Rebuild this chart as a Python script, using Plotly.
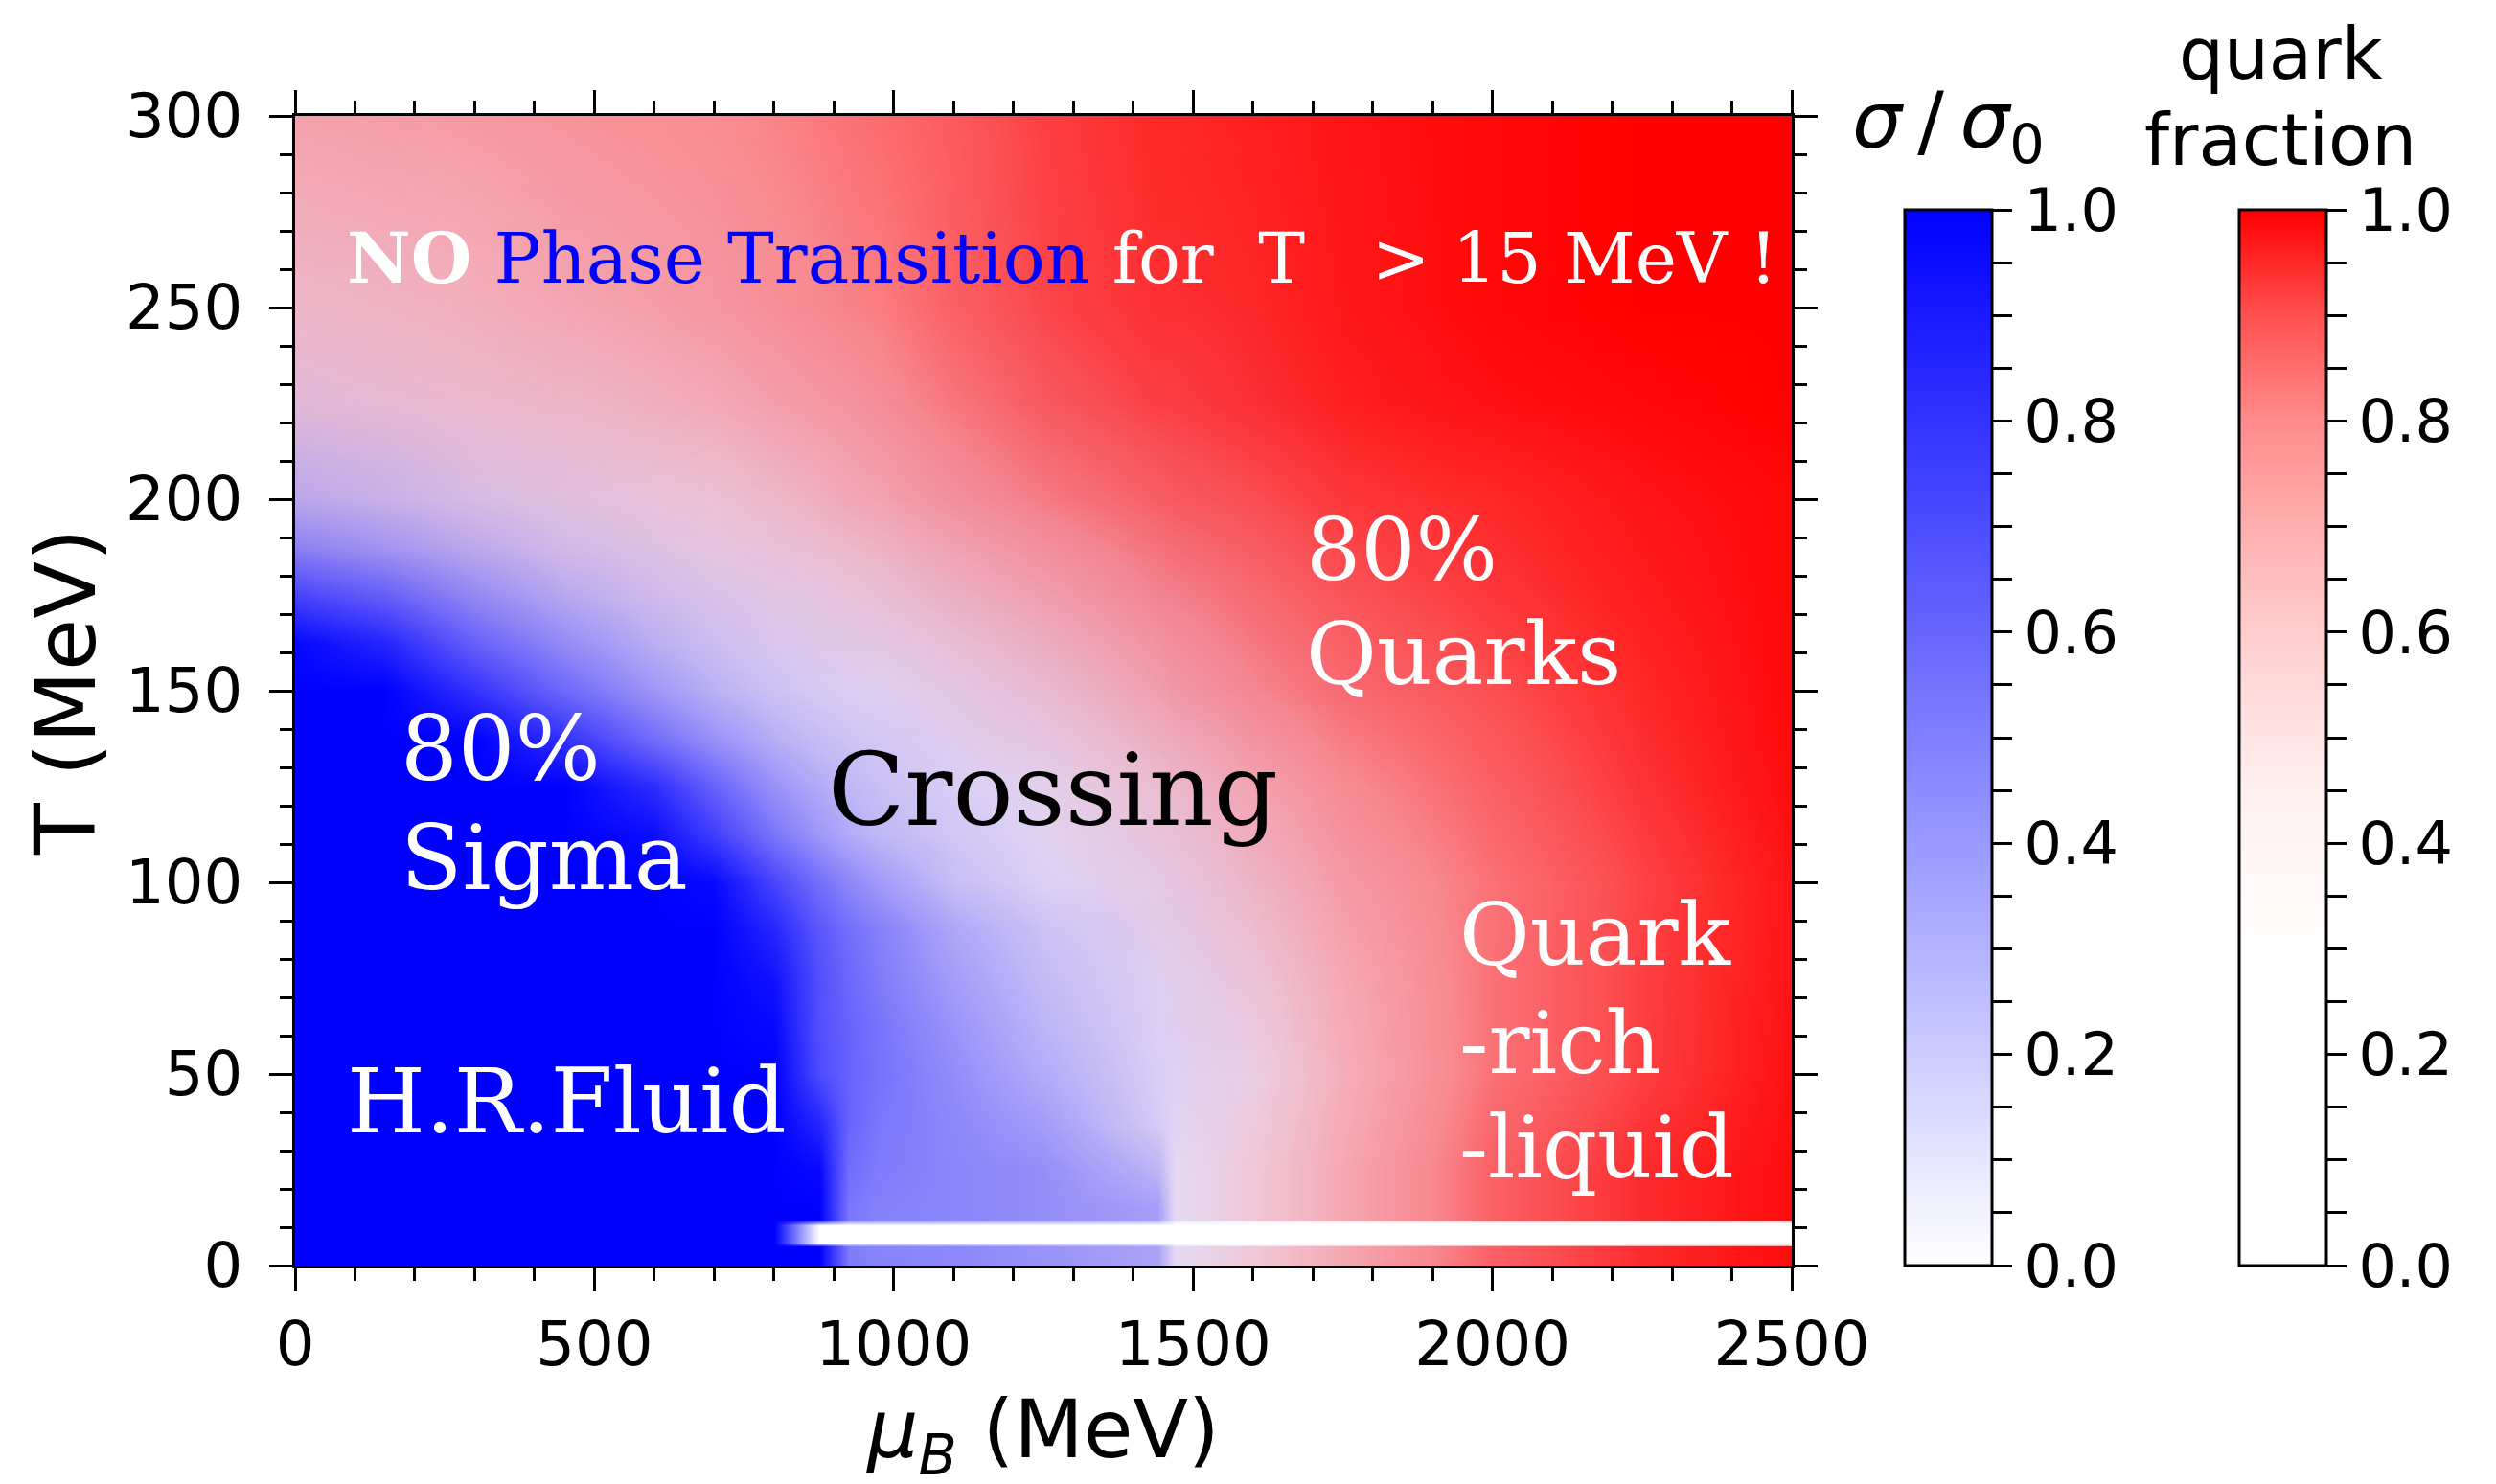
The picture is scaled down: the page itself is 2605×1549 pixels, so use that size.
import plotly.graph_objects as go

# ---------------- data ----------------
# sigma / sigma_0 field
mu_sigma = [0, 150, 300, 450, 600, 700, 800, 875, 925, 975, 1100, 1250, 1440, 1470, 1600, 1750, 2000, 2250, 2500]
T_sigma = [0, 5, 6, 10.5, 12, 15, 25, 37.5, 50, 62.5, 75, 87.5, 100, 112.5, 125, 137.5, 150,
           162.5, 175, 187.5, 200, 225, 250, 300]
sigma_ratio = [
    [1, 1, 1, 1, 1, 1, 1, 1, 0.50, 0.47, 0.45, 0.40, 0.33, 0.10, 0.06, 0.04, 0.02, 0.01, 0],
    [1, 1, 1, 1, 1, 1, 1, 1, 0.50, 0.47, 0.45, 0.40, 0.33, 0.10, 0.06, 0.04, 0.02, 0.01, 0],
    [1, 1, 1, 1, 1, 1, 1, 0, 0, 0, 0, 0, 0, 0, 0, 0, 0, 0, 0],
    [1, 1, 1, 1, 1, 1, 1, 0, 0, 0, 0, 0, 0, 0, 0, 0, 0, 0, 0],
    [1, 1, 1, 1, 1, 1, 1, 1, 0.52, 0.48, 0.46, 0.42, 0.35, 0.10, 0.06, 0.04, 0.02, 0.01, 0],
    [1, 1, 1, 1, 1, 1, 1, 1, 0.52, 0.48, 0.46, 0.42, 0.35, 0.10, 0.06, 0.04, 0.02, 0.01, 0],
    [1, 1, 1, 1, 1, 1, 1, 0.97, 0.56, 0.50, 0.46, 0.42, 0.26, 0.10, 0.06, 0.04, 0.02, 0.01, 0],
    [1, 1, 1, 1, 1, 1, 1, 0.85, 0.60, 0.52, 0.45, 0.36, 0.16, 0.12, 0.07, 0.04, 0.02, 0.01, 0],
    [1, 1, 1, 1, 1, 1, 1, 0.70, 0.60, 0.54, 0.43, 0.30, 0.15, 0.13, 0.08, 0.04, 0.02, 0.01, 0],
    [1, 1, 1, 1, 1, 1, 0.97, 0.68, 0.60, 0.53, 0.40, 0.26, 0.14, 0.13, 0.08, 0.04, 0.02, 0.01, 0],
    [1, 1, 1, 1, 1, 1, 0.93, 0.68, 0.58, 0.50, 0.36, 0.23, 0.13, 0.12, 0.08, 0.04, 0.02, 0.01, 0],
    [1, 1, 1, 1, 1, 1, 0.85, 0.65, 0.55, 0.48, 0.32, 0.20, 0.12, 0.11, 0.07, 0.04, 0.02, 0.01, 0],
    [1, 1, 1, 1, 1, 0.97, 0.72, 0.55, 0.45, 0.37, 0.22, 0.14, 0.10, 0.10, 0.07, 0.04, 0.02, 0.01, 0],
    [1, 1, 1, 1, 0.95, 0.75, 0.52, 0.38, 0.30, 0.25, 0.18, 0.12, 0.09, 0.09, 0.06, 0.04, 0.02, 0.01, 0],
    [1, 1, 1, 1, 0.82, 0.60, 0.40, 0.30, 0.25, 0.21, 0.15, 0.11, 0.08, 0.08, 0.05, 0.03, 0.02, 0.01, 0],
    [1, 1, 1, 0.80, 0.55, 0.40, 0.28, 0.22, 0.19, 0.17, 0.13, 0.10, 0.07, 0.07, 0.05, 0.03, 0.01, 0.01, 0],
    [1, 1, 0.80, 0.57, 0.38, 0.27, 0.20, 0.16, 0.14, 0.13, 0.11, 0.09, 0.06, 0.06, 0.04, 0.03, 0.01, 0, 0],
    [0.97, 0.85, 0.60, 0.42, 0.27, 0.20, 0.15, 0.13, 0.12, 0.11, 0.09, 0.08, 0.05, 0.05, 0.04, 0.02, 0.01, 0, 0],
    [0.72, 0.60, 0.42, 0.28, 0.19, 0.15, 0.12, 0.10, 0.09, 0.09, 0.08, 0.06, 0.05, 0.05, 0.03, 0.02, 0.01, 0, 0],
    [0.45, 0.36, 0.26, 0.18, 0.13, 0.10, 0.09, 0.08, 0.07, 0.07, 0.06, 0.05, 0.04, 0.04, 0.03, 0.02, 0.01, 0, 0],
    [0.27, 0.22, 0.16, 0.12, 0.09, 0.08, 0.07, 0.06, 0.06, 0.05, 0.05, 0.04, 0.03, 0.03, 0.02, 0.01, 0, 0, 0],
    [0.12, 0.10, 0.08, 0.07, 0.06, 0.05, 0.05, 0.04, 0.04, 0.04, 0.03, 0.03, 0.02, 0.02, 0.02, 0.01, 0, 0, 0],
    [0.07, 0.06, 0.05, 0.05, 0.04, 0.04, 0.03, 0.03, 0.03, 0.02, 0.02, 0.02, 0.01, 0.01, 0.01, 0, 0, 0, 0],
    [0.04, 0.04, 0.03, 0.03, 0.02, 0.02, 0.02, 0.02, 0.02, 0.01, 0.01, 0.01, 0, 0, 0, 0, 0, 0, 0],
]

# quark fraction field
mu_quark = [0, 250, 500, 700, 850, 925, 975, 1100, 1250, 1440, 1470, 1600, 1750, 2000, 2250, 2500]
T_quark = [0, 5, 6, 10.5, 12, 15, 25, 50, 75, 100, 125, 150, 175, 200, 225, 250, 300]
quark_fraction = [
    [0.30, 0.31, 0.32, 0.33, 0.34, 0.35, 0.36, 0.38, 0.40, 0.42, 0.44, 0.57, 0.70, 0.87, 0.945, 0.985],
    [0.30, 0.31, 0.32, 0.33, 0.34, 0.35, 0.36, 0.38, 0.40, 0.42, 0.44, 0.57, 0.70, 0.87, 0.945, 0.985],
    [0.30, 0.30, 0.30, 0.30, 0, 0, 0, 0, 0, 0, 0, 0, 0, 0, 0, 0],
    [0.30, 0.30, 0.30, 0.30, 0, 0, 0, 0, 0, 0, 0, 0, 0, 0, 0, 0],
    [0.30, 0.31, 0.32, 0.33, 0.34, 0.35, 0.36, 0.38, 0.40, 0.42, 0.44, 0.57, 0.70, 0.87, 0.945, 0.985],
    [0.30, 0.31, 0.32, 0.33, 0.34, 0.35, 0.36, 0.38, 0.40, 0.42, 0.44, 0.57, 0.70, 0.87, 0.945, 0.985],
    [0.30, 0.31, 0.32, 0.33, 0.34, 0.35, 0.36, 0.38, 0.40, 0.42, 0.44, 0.57, 0.70, 0.87, 0.945, 0.985],
    [0.30, 0.31, 0.32, 0.33, 0.34, 0.35, 0.36, 0.37, 0.39, 0.43, 0.45, 0.52, 0.68, 0.84, 0.92, 0.98],
    [0.33, 0.34, 0.35, 0.36, 0.37, 0.38, 0.38, 0.39, 0.41, 0.46, 0.48, 0.57, 0.70, 0.84, 0.92, 0.975],
    [0.35, 0.36, 0.37, 0.38, 0.38, 0.39, 0.40, 0.41, 0.43, 0.52, 0.54, 0.64, 0.74, 0.84, 0.915, 0.975],
    [0.38, 0.39, 0.40, 0.40, 0.41, 0.41, 0.42, 0.43, 0.48, 0.60, 0.62, 0.71, 0.79, 0.87, 0.935, 0.985],
    [0.40, 0.41, 0.42, 0.43, 0.44, 0.45, 0.46, 0.52, 0.60, 0.72, 0.74, 0.80, 0.85, 0.90, 0.95, 0.99],
    [0.45, 0.47, 0.48, 0.50, 0.53, 0.56, 0.58, 0.65, 0.72, 0.80, 0.81, 0.85, 0.89, 0.93, 0.965, 0.99],
    [0.50, 0.52, 0.55, 0.58, 0.65, 0.69, 0.71, 0.77, 0.82, 0.87, 0.88, 0.90, 0.93, 0.95, 0.975, 0.99],
    [0.58, 0.61, 0.64, 0.69, 0.74, 0.76, 0.78, 0.83, 0.88, 0.92, 0.92, 0.94, 0.96, 0.98, 0.99, 1],
    [0.63, 0.66, 0.71, 0.75, 0.79, 0.81, 0.82, 0.87, 0.91, 0.94, 0.94, 0.95, 0.97, 0.99, 1, 1],
    [0.72, 0.74, 0.77, 0.79, 0.82, 0.84, 0.85, 0.88, 0.92, 0.95, 0.95, 0.96, 0.975, 0.99, 1, 1],
]

cb_tick_values = [0, 0.05, 0.1, 0.15, 0.2, 0.25, 0.3, 0.35, 0.4, 0.45, 0.5, 0.55, 0.6, 0.65,
                  0.7, 0.75, 0.8, 0.85, 0.9, 0.95, 1.0]
cb_tick_labels = ["0.0", "", "", "", "0.2", "", "", "", "0.4", "", "", "", "0.6", "", "",
                  "", "0.8", "", "", "", "1.0"]

# ---------------- styling ----------------
W, H = 2605, 1549
px_left, px_right, px_top, px_bottom = 300, 1862, 113, 1313

def fx(px):
    return px / W

def fy(py):
    return (H - py) / H

quark_scale = [
    [0.0, "rgb(255,255,255)"], [0.3, "rgb(255,254,254)"], [0.45, "rgb(255,240,240)"],
    [0.6, "rgb(255,205,205)"], [0.7, "rgb(255,175,175)"], [0.8, "rgb(255,140,140)"],
    [0.9, "rgb(255,80,80)"], [1.0, "rgb(255,0,0)"],
]
sigma_scale = [[0.0, "rgba(0,0,255,0)"], [1.0, "rgba(0,0,255,1)"]]

cb_common = dict(
    xref="paper", yref="paper", xanchor="left", y=fy((211 + 1313) / 2), yanchor="middle",
    len=1102, lenmode="pixels", thickness=91, thicknessmode="pixels",
    outlinewidth=3, outlinecolor="black", xpad=0, ypad=0,
    tickmode="array", tickvals=cb_tick_values, ticktext=cb_tick_labels,
    ticks="outside", ticklen=20, tickwidth=3, tickcolor="black",
    tickfont=dict(family="DejaVu Sans", size=62, color="black"),
)

fig = go.Figure()
fig.add_trace(go.Heatmap(
    x=mu_quark, y=T_quark, z=quark_fraction, zmin=0, zmax=1, zsmooth="best",
    colorscale=quark_scale, hoverinfo="skip",
    colorbar=dict(x=fx(2329), **cb_common),
))
fig.add_trace(go.Heatmap(
    x=mu_sigma, y=T_sigma, z=sigma_ratio, zmin=0, zmax=1, zsmooth="best",
    colorscale=sigma_scale, hoverinfo="skip",
    colorbar=dict(x=fx(1980), **cb_common),
))

tickfont = dict(family="DejaVu Sans", size=64, color="black")
xdom = [fx(px_left), fx(px_right)]
ydom = [fy(px_bottom), fy(px_top)]

fig.update_layout(
    width=W, height=H, margin=dict(l=0, r=0, t=0, b=0, autoexpand=False),
    paper_bgcolor="white", plot_bgcolor="white", showlegend=False,
    xaxis=dict(domain=xdom, range=[0, 2500], tick0=0, dtick=500, ticks="outside",
               ticklen=24, tickwidth=3, tickcolor="black", automargin=False,
               minor=dict(dtick=100, ticks="outside", ticklen=13, tickwidth=2.5, tickcolor="black"),
               showline=True, linewidth=3, linecolor="black", mirror="allticks",
               showgrid=False, zeroline=False, tickfont=tickfont, ticklabelstandoff=0),
    yaxis=dict(domain=ydom, range=[0, 300], tick0=0, dtick=50, ticks="outside",
               ticklen=24, tickwidth=3, tickcolor="black", automargin=False,
               minor=dict(dtick=10, ticks="outside", ticklen=13, tickwidth=2.5, tickcolor="black"),
               showline=True, linewidth=3, linecolor="black", mirror="allticks",
               showgrid=False, zeroline=False, tickfont=tickfont, ticklabelstandoff=15),
    xaxis2=dict(domain=xdom, range=[0, 2500], overlaying="x", anchor="y", side="bottom",
                tick0=0, dtick=500, ticks="inside", ticklen=24, tickwidth=3, tickcolor="black",
                minor=dict(dtick=100, ticks="inside", ticklen=13, tickwidth=2.5, tickcolor="black"),
                showticklabels=False, showline=False, mirror="allticks", automargin=False,
                showgrid=False, zeroline=False),
    yaxis2=dict(domain=ydom, range=[0, 300], overlaying="y", anchor="x", side="left",
                tick0=0, dtick=50, ticks="inside", ticklen=24, tickwidth=3, tickcolor="black",
                minor=dict(dtick=10, ticks="inside", ticklen=13, tickwidth=2.5, tickcolor="black"),
                showticklabels=False, showline=False, mirror="allticks", automargin=False,
                showgrid=False, zeroline=False),
)

serif = "DejaVu Serif"
ann = []

def paper_text(text, x, y, size, angle=0):
    ann.append(dict(text=text, xref="paper", yref="paper", x=x, y=y, textangle=angle,
                    xanchor="center", yanchor="middle", showarrow=False,
                    font=dict(family="DejaVu Sans", size=size, color="black")))

def data_text(text, x, y, size, color="white", anchor="left"):
    ann.append(dict(text=text, xref="x", yref="y", x=x, y=y, xanchor=anchor,
                    yanchor="middle", showarrow=False,
                    font=dict(family=serif, size=size, color=color)))

# axis titles
paper_text("<i>μ</i><sub><i>B</i></sub> (MeV)", fx(1080), fy(1490), 84)
paper_text("T (MeV)", fx(60), fy(714), 88, angle=-90)
# colorbar titles
paper_text("<i>σ</i>\u2009/\u2009<i>σ</i><sub>0</sub>", fx(2025), fy(124), 82)
paper_text("quark", fx(2372), fy(48), 74)
paper_text("fraction", fx(2372), fy(138), 74)

# in-plot labels
data_text('<b>NO</b> <span style="color:#0000ff">Phase Transition</span> for  T   &gt; 15 MeV !',
          83, 263, 73)
data_text("80%", 173, 135, 94)
data_text("Sigma", 173, 106.3, 94)
data_text("Crossing", 1266, 124, 105, color="black", anchor="center")
data_text("80%", 1686, 187, 90)
data_text("Quarks", 1686, 159.7, 90)
data_text("Quark", 1941, 86.3, 90)
data_text("-rich", 1941, 58.1, 90)
data_text("-liquid", 1941, 30.7, 89)
data_text("H.R.Fluid", 84, 42.8, 94)
fig.update_layout(annotations=ann)

fig.write_html("out.html")
